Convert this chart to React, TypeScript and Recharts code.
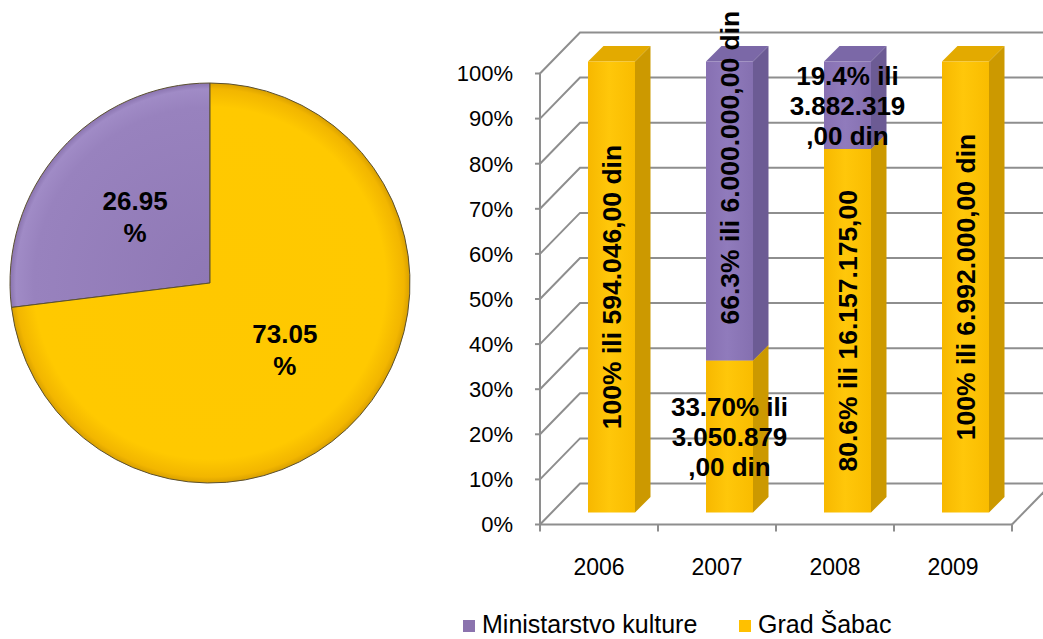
import React from 'react';
import { BarChart, Bar, XAxis, YAxis, CartesianGrid, LabelList, PieChart, Pie, Cell } from 'recharts';

// ---------- data ----------
const years = ['2006', '2007', '2008', '2009'];
const gradSabac = [100, 33.7, 80.6, 100];
const ministarstvo = [0, 66.3, 19.4, 0];
const gradLabels = [
  '100% ili 594.046,00 din',
  '33.70% ili\n3.050.879\n,00 din',
  '80.6% ili 16.157.175,00',
  '100% ili 6.992.000,00 din',
];
const ministarstvoLabels = ['', '66.3% ili 6.000.000,00 din', '19.4% ili\n3.882.319\n,00 din', ''];
const yTicks = [0, 10, 20, 30, 40, 50, 60, 70, 80, 90, 100];
const seriesNames = ['Ministarstvo kulture', 'Grad Šabac'];
const pieValues = [26.95, 73.05];

const barData = years.map((year, i) => ({ year, grad: gradSabac[i], min: ministarstvo[i] }));
const pieData = seriesNames.map((name, i) => ({ name, value: pieValues[i] }));

// ---------- layout / style ----------
const W = 1043;
const H = 639;
const PLOT_LEFT = 540;
const PLOT_RIGHT = 1012;
const PLOT_TOP = 73.5;
const PLOT_BOTTOM = 524.5;
const XAXIS_H = 40;
const WALL_DX = 40;
const WALL_DY = 41;
const BAR_OFF = 12;
const BAR_DEPTH = 15.5;
const GRID = '#8e8e8e';
const FONT = '"Liberation Sans", Arial, sans-serif';
const BAND = (PLOT_RIGHT - PLOT_LEFT) / years.length;

const YELLOW = { front: 'url(#yFront)', side: '#CC9900', top: '#E3AA00', legend: '#FFC000' };
const PURPLE = { front: 'url(#pFront)', side: '#6C5B94', top: '#7B68A7', legend: '#8B73AE' };

const gridLine = (p: any) => {
  const { x1, y1, x2 } = p;
  const isFloor = Math.abs(y1 - PLOT_BOTTOM) < 1.5;
  return (
    <g key={p.key}>
      <polyline
        points={`${x1},${y1} ${x1 + WALL_DX},${y1 - WALL_DY} ${W + 20},${y1 - WALL_DY}`}
        fill="none"
        stroke={GRID}
        strokeWidth={2}
      />
      {isFloor && (
        <line x1={x2} y1={y1} x2={x2 + WALL_DX} y2={y1 - WALL_DY} stroke={GRID} strokeWidth={2} />
      )}
    </g>
  );
};

const makeShape = (c: { front: string; side: string; top: string }) => (props: any) => {
  const { x, y, width, height } = props;
  if (!height || height <= 0) return <g />;
  const fx = x + BAR_OFF;
  const fy = y - BAR_OFF;
  const w = width;
  const h = height;
  const d = BAR_DEPTH;
  return (
    <g>
      <polygon points={`${fx},${fy} ${fx + d},${fy - d} ${fx + w + d},${fy - d} ${fx + w},${fy}`} fill={c.top} />
      <polygon
        points={`${fx + w},${fy} ${fx + w + d},${fy - d} ${fx + w + d},${fy + h - d} ${fx + w},${fy + h}`}
        fill={c.side}
      />
      <rect x={fx} y={fy} width={w} height={h} fill={c.front} />
    </g>
  );
};

const makeLabel = (texts: string[], rotatedFromBottom: boolean) => (props: any) => {
  const vb = props.viewBox && props.viewBox.width !== undefined ? props.viewBox : props;
  const { x, y, width, height } = vb;
  if (x === undefined || !height || height <= 0) return null;
  const idx = typeof props.index === 'number' ? props.index : Math.floor((x - PLOT_LEFT) / BAND);
  const text = texts[idx];
  if (!text) return null;
  const cx = x + width / 2 + BAR_OFF;
  const cy = y + height / 2 - BAR_OFF;
  const lines = text.split('\n');
  const style = { fontFamily: FONT, fontWeight: 700, fill: '#000' } as any;
  if (lines.length === 1) {
    const ty = rotatedFromBottom ? y + height - BAR_OFF - 36 : cy;
    return (
      <text
        x={cx}
        y={ty}
        transform={`rotate(-90 ${cx} ${ty})`}
        textAnchor={rotatedFromBottom ? 'start' : 'middle'}
        dy="0.36em"
        fontSize={26.5}
        style={style}
      >
        {text}
      </text>
    );
  }
  const lh = 30;
  return (
    <text textAnchor="middle" fontSize={26} style={style}>
      {lines.map((l, i) => (
        <tspan key={i} x={cx} y={cy + (i - (lines.length - 1) / 2) * lh} dy="0.36em">
          {l}
        </tspan>
      ))}
    </text>
  );
};

const XTick = (props: any) => {
  const { x, y, payload, index } = props;
  const half = BAND / 2;
  return (
    <g>
      <line x1={x - half} y1={y} x2={x - half} y2={y + 7} stroke={GRID} strokeWidth={2} />
      {index === years.length - 1 && (
        <line x1={x + half} y1={y} x2={x + half} y2={y + 7} stroke={GRID} strokeWidth={2} />
      )}
      <text x={x} y={y + 50} textAnchor="middle" fontSize={23} fill="#000" style={{ fontFamily: FONT }}>
        {payload.value}
      </text>
    </g>
  );
};

const RADIAN = Math.PI / 180;
const renderPieLabel = (p: any) => {
  const { cx, cy, midAngle, outerRadius, value } = p;
  const r = outerRadius * 0.5;
  const lx = cx + r * Math.cos(-midAngle * RADIAN);
  const ly = cy + r * Math.sin(-midAngle * RADIAN);
  return (
    <text textAnchor="middle" fontSize={26} fontWeight={700} fill="#000" style={{ fontFamily: FONT }}>
      <tspan x={lx} y={ly - 16} dy="0.36em">
        {Number(value).toFixed(2)}
      </tspan>
      <tspan x={lx} y={ly + 16} dy="0.36em">
        %
      </tspan>
    </text>
  );
};

const pieFills = ['url(#pieP)', 'url(#pieY)'];
const legendItems = [
  { name: seriesNames[0], color: PURPLE.legend },
  { name: seriesNames[1], color: YELLOW.legend },
];

export default function App() {
  return (
    <div style={{ position: 'absolute', left: 0, top: 0, width: W, height: H, background: '#fff', fontFamily: FONT }}>
      <svg width={0} height={0} style={{ position: 'absolute' }}>
        <defs>
          <linearGradient id="yFront" x1="0" y1="0" x2="1" y2="0">
            <stop offset="0%" stopColor="#F7B800" />
            <stop offset="45%" stopColor="#FFC70A" />
            <stop offset="100%" stopColor="#F9BC00" />
          </linearGradient>
          <linearGradient id="pFront" x1="0" y1="0" x2="1" y2="0">
            <stop offset="0%" stopColor="#8770B2" />
            <stop offset="45%" stopColor="#907BBC" />
            <stop offset="100%" stopColor="#8570B0" />
          </linearGradient>
          <radialGradient id="pieY" cx="210" cy="283" r="200" gradientUnits="userSpaceOnUse">
            <stop offset="0%" stopColor="#FFC800" />
            <stop offset="88%" stopColor="#FFC900" />
            <stop offset="97%" stopColor="#F2B600" />
            <stop offset="100%" stopColor="#D9A000" />
          </radialGradient>
          <radialGradient id="pieP" cx="210" cy="283" r="200" gradientUnits="userSpaceOnUse">
            <stop offset="0%" stopColor="#8F78B5" />
            <stop offset="88%" stopColor="#9882BE" />
            <stop offset="97%" stopColor="#A08BC6" />
            <stop offset="100%" stopColor="#8A74AF" />
          </radialGradient>
        </defs>
      </svg>

      <div style={{ position: 'absolute', left: 0, top: 0 }}>
        <PieChart width={420} height={566} margin={{ top: 0, right: 0, bottom: 0, left: 0 }}>
          <Pie
            data={pieData}
            dataKey="value"
            nameKey="name"
            cx={210}
            cy={283}
            outerRadius={200}
            startAngle={90}
            endAngle={450}
            stroke="#5b5030"
            strokeWidth={1}
            label={renderPieLabel}
            labelLine={false}
            isAnimationActive={false}
          >
            {pieData.map((d, i) => (
              <Cell key={d.name} fill={pieFills[i]} />
            ))}
          </Pie>
        </PieChart>
      </div>

      <div style={{ position: 'absolute', left: 0, top: 0 }}>
        <BarChart
          width={W}
          height={H}
          data={barData}
          margin={{ top: PLOT_TOP, right: W - PLOT_RIGHT, bottom: H - PLOT_BOTTOM - XAXIS_H, left: 0 }}
        >
          <CartesianGrid vertical={false} horizontal={gridLine} />
          <XAxis
            dataKey="year"
            height={XAXIS_H}
            interval={0}
            tickLine={false}
            tickSize={0}
            tickMargin={0}
            axisLine={{ stroke: GRID, strokeWidth: 2 }}
            tick={<XTick />}
          />
          <YAxis
            type="number"
            domain={[0, 100]}
            ticks={yTicks}
            interval={0}
            width={PLOT_LEFT}
            tickSize={5}
            tickMargin={22}
            tickFormatter={(v: number) => `${v}%`}
            axisLine={{ stroke: GRID, strokeWidth: 2 }}
            tickLine={{ stroke: GRID, strokeWidth: 2 }}
            tick={{ fill: '#000', fontSize: 22, fontFamily: FONT }}
          />
          <Bar dataKey="grad" name={seriesNames[1]} stackId="s" barSize={47} shape={makeShape(YELLOW)} isAnimationActive={false}>
            <LabelList dataKey="grad" content={makeLabel(gradLabels, false)} />
          </Bar>
          <Bar dataKey="min" name={seriesNames[0]} stackId="s" barSize={47} shape={makeShape(PURPLE)} isAnimationActive={false}>
            <LabelList dataKey="min" content={makeLabel(ministarstvoLabels, true)} />
          </Bar>
        </BarChart>
      </div>

      <svg width={W} height={H} style={{ position: 'absolute', left: 0, top: 0, pointerEvents: 'none' }}>
        {legendItems.map((it, i) => {
          const lx = i === 0 ? 463 : 739;
          return (
            <g key={it.name}>
              <rect x={lx} y={620} width={12} height={12} fill={it.color} />
              <text x={lx + 19} y={633} fontSize={25} fill="#000" style={{ fontFamily: FONT }}>
                {it.name}
              </text>
            </g>
          );
        })}
      </svg>
    </div>
  );
}
